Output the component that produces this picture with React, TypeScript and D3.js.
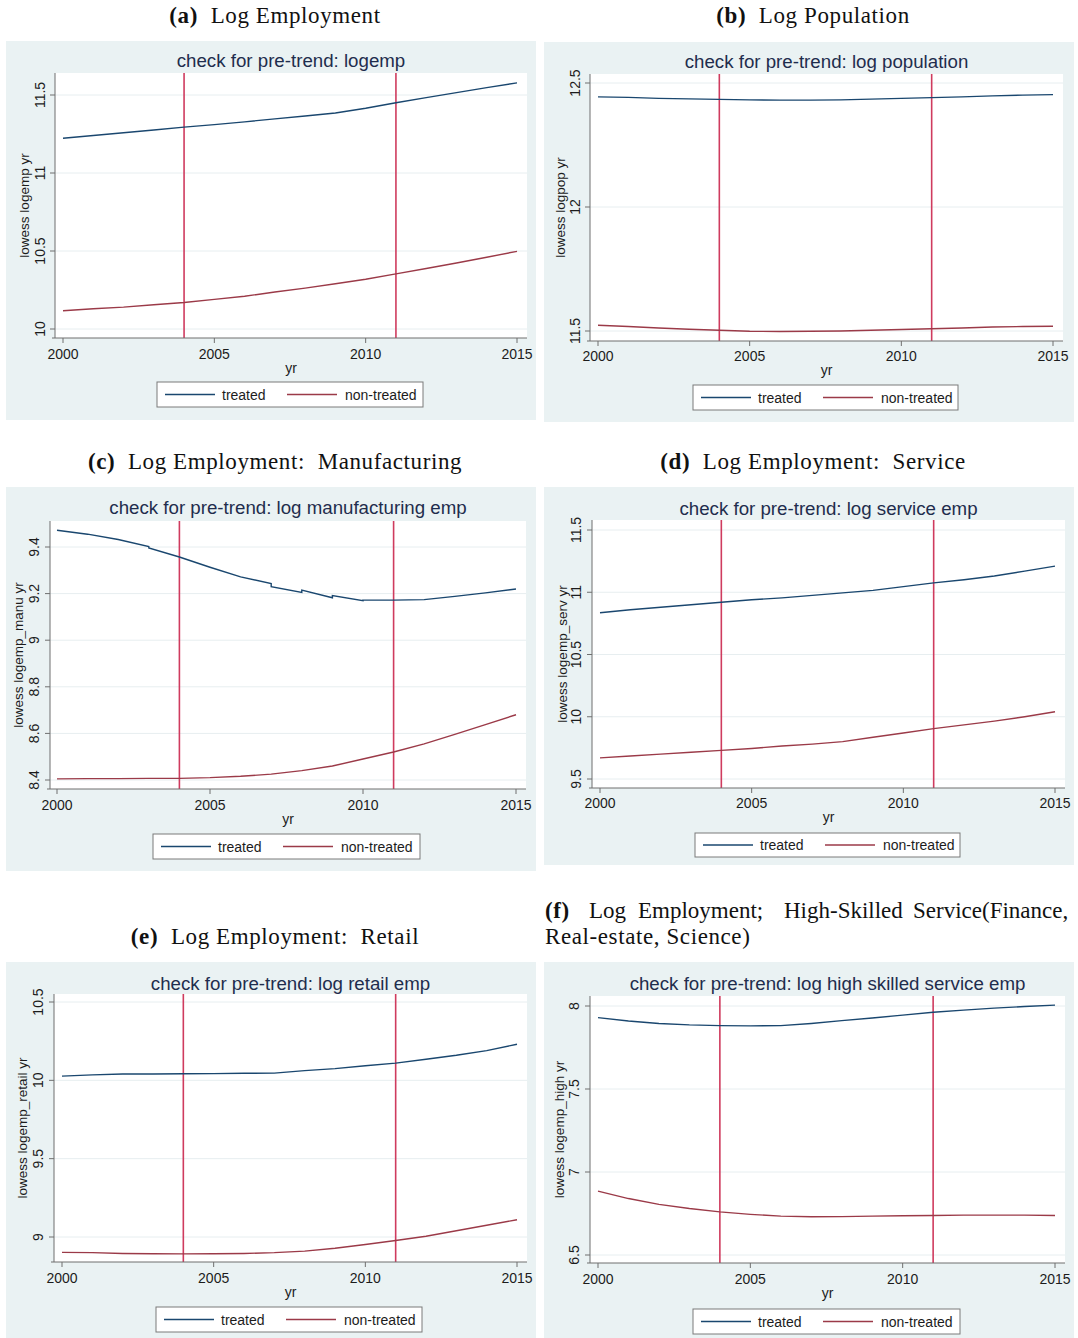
import React from "react";
import * as d3 from "d3";

// ---------- data ----------
const years = [2000, 2001, 2002, 2003, 2004, 2005, 2006, 2007, 2008, 2009, 2010, 2011, 2012, 2013, 2014, 2015];
const treatmentYears = [2004, 2011];
const xTicks = [2000, 2005, 2010, 2015];
const seriesNames = ["treated", "non-treated"];

// (a) log employment
const empTreated = [11.223, 11.24, 11.258, 11.276, 11.294, 11.31, 11.328, 11.347, 11.365, 11.385, 11.415, 11.45, 11.483, 11.515, 11.547, 11.578];
const empNonTreated = [10.117, 10.13, 10.14, 10.155, 10.17, 10.19, 10.21, 10.237, 10.262, 10.29, 10.319, 10.353, 10.388, 10.423, 10.46, 10.498];
const empTicks = [10, 10.5, 11, 11.5];

// (b) log population
const popTreated = [12.444, 12.442, 12.438, 12.436, 12.434, 12.432, 12.431, 12.431, 12.432, 12.435, 12.438, 12.441, 12.444, 12.448, 12.451, 12.453];
const popNonTreated = [11.523, 11.518, 11.512, 11.507, 11.503, 11.499, 11.498, 11.499, 11.5, 11.503, 11.506, 11.509, 11.512, 11.516, 11.518, 11.519];
const popTicks = [11.5, 12, 12.5];

// (c) manufacturing (treated line has small jumps at repeated years)
const manuYearsTreated = [2000, 2001, 2002, 2003, 2003, 2004, 2005, 2006, 2007, 2007, 2008, 2008, 2009, 2009, 2010, 2010, 2011, 2012, 2013, 2014, 2015];
const manuTreated = [9.472, 9.455, 9.432, 9.402, 9.396, 9.357, 9.313, 9.272, 9.243, 9.23, 9.205, 9.215, 9.182, 9.192, 9.17, 9.172, 9.172, 9.174, 9.188, 9.203, 9.22];
const manuNonTreated = [8.405, 8.406, 8.406, 8.407, 8.407, 8.41, 8.416, 8.425, 8.44, 8.46, 8.49, 8.52, 8.555, 8.596, 8.638, 8.68];
const manuTicks = [8.4, 8.6, 8.8, 9, 9.2, 9.4];

// (d) service
const servTreated = [10.835, 10.86, 10.88, 10.9, 10.92, 10.94, 10.955, 10.975, 10.995, 11.015, 11.045, 11.075, 11.1, 11.13, 11.17, 11.21];
const servNonTreated = [9.67, 9.685, 9.7, 9.715, 9.73, 9.745, 9.765, 9.78, 9.8, 9.835, 9.87, 9.905, 9.935, 9.965, 10.0, 10.04];
const servTicks = [9.5, 10, 10.5, 11, 11.5];

// (e) retail
const retailTreated = [10.027, 10.035, 10.04, 10.04, 10.042, 10.043, 10.045, 10.046, 10.062, 10.075, 10.093, 10.11, 10.135, 10.16, 10.19, 10.23];
const retailNonTreated = [8.902, 8.9, 8.895, 8.893, 8.892, 8.893, 8.895, 8.9, 8.91, 8.928, 8.952, 8.978, 9.005, 9.04, 9.075, 9.11];
const retailTicks = [9, 9.5, 10, 10.5];

// (f) high-skilled service
const highTreated = [7.93, 7.91, 7.895, 7.886, 7.882, 7.88, 7.882, 7.895, 7.912, 7.928, 7.945, 7.962, 7.975, 7.987, 7.997, 8.005];
const highNonTreated = [6.885, 6.84, 6.805, 6.78, 6.76, 6.745, 6.734, 6.73, 6.731, 6.734, 6.736, 6.738, 6.74, 6.74, 6.74, 6.738];
const highTicks = [6.5, 7, 7.5, 8];

// ---------- styles ----------
const BG = "#eaf2f3";
const NAVY = "#1a476f";
const MAROON = "#9b3a48";
const VLINE = "#cf3b5e";
const AXIS = "#6f6f6f";
const GRID = "#e7eef0";
const TEXT = "#1c1c1c";
const TITLE = "#1f2d4d";
const SANS = "'Liberation Sans', Arial, Helvetica, sans-serif";
const SERIF = "'Liberation Serif', 'Times New Roman', serif";
const CAP_SIZE = 23;
const CAP_SPACING = 0.6;

type Panel = {
  key: string;
  title: string;
  ytitle: string;
  box: [number, number, number, number];
  plot: { l: number; t: number; r: number; b: number };
  xPx: [number, number];
  yMap: [number, number, number, number];
  yTicks: number[];
  series: { xs: number[]; ys: number[]; color: string }[];
  legend: [number, number, number, number];
  titleY: number;
  xlabY: number;
  yrY: number;
  ytickX: number;
  ytitleX: number;
};

const panels: Panel[] = [
  {
    key: "a", title: "check for pre-trend: logemp", ytitle: "lowess logemp yr",
    box: [6, 41, 536, 420], plot: { l: 55, t: 73, r: 527, b: 338 },
    xPx: [63, 517], yMap: [10, 329, 11.5, 95], yTicks: empTicks,
    series: [{ xs: years, ys: empTreated, color: NAVY }, { xs: years, ys: empNonTreated, color: MAROON }],
    legend: [157, 382, 423, 407], titleY: 60, xlabY: 354, yrY: 368, ytickX: 40, ytitleX: 24,
  },
  {
    key: "b", title: "check for pre-trend: log population", ytitle: "lowess logpop yr",
    box: [544, 42, 1074, 422], plot: { l: 590, t: 74, r: 1063, b: 341 },
    xPx: [598, 1053], yMap: [11.5, 331, 12.5, 83], yTicks: popTicks,
    series: [{ xs: years, ys: popTreated, color: NAVY }, { xs: years, ys: popNonTreated, color: MAROON }],
    legend: [693, 385, 958, 410], titleY: 61, xlabY: 356, yrY: 370, ytickX: 575, ytitleX: 560,
  },
  {
    key: "c", title: "check for pre-trend: log manufacturing emp", ytitle: "lowess logemp_manu yr",
    box: [6, 487, 536, 871], plot: { l: 50, t: 521, r: 526, b: 789 },
    xPx: [57, 516], yMap: [8.4, 780, 9.4, 547], yTicks: manuTicks,
    series: [{ xs: manuYearsTreated, ys: manuTreated, color: NAVY }, { xs: years, ys: manuNonTreated, color: MAROON }],
    legend: [153, 834, 420, 859], titleY: 507, xlabY: 805, yrY: 819, ytickX: 34, ytitleX: 18,
  },
  {
    key: "d", title: "check for pre-trend: log service emp", ytitle: "lowess logemp_serv yr",
    box: [544, 487, 1074, 865], plot: { l: 592, t: 520, r: 1065, b: 788 },
    xPx: [600, 1055], yMap: [9.5, 779, 11.5, 530], yTicks: servTicks,
    series: [{ xs: years, ys: servTreated, color: NAVY }, { xs: years, ys: servNonTreated, color: MAROON }],
    legend: [695, 833, 960, 857], titleY: 508, xlabY: 803, yrY: 817, ytickX: 576, ytitleX: 562,
  },
  {
    key: "e", title: "check for pre-trend: log retail emp", ytitle: "lowess logemp_retail yr",
    box: [6, 962, 536, 1338], plot: { l: 54, t: 994, r: 527, b: 1262 },
    xPx: [62, 517], yMap: [9, 1237, 10.5, 1002], yTicks: retailTicks,
    series: [{ xs: years, ys: retailTreated, color: NAVY }, { xs: years, ys: retailNonTreated, color: MAROON }],
    legend: [156, 1307, 422, 1332], titleY: 983, xlabY: 1278, yrY: 1292, ytickX: 38, ytitleX: 22,
  },
  {
    key: "f", title: "check for pre-trend: log high skilled service emp", ytitle: "lowess logemp_high yr",
    box: [544, 962, 1074, 1338], plot: { l: 590, t: 996, r: 1065, b: 1263 },
    xPx: [598, 1055], yMap: [6.5, 1255, 8, 1006], yTicks: highTicks,
    series: [{ xs: years, ys: highTreated, color: NAVY }, { xs: years, ys: highNonTreated, color: MAROON }],
    legend: [693, 1309, 960, 1334], titleY: 983, xlabY: 1279, yrY: 1293, ytickX: 574, ytitleX: 559,
  },
];

const fmt = (v: number) => String(v);

function PanelView({ p }: { p: Panel }) {
  const x = d3.scaleLinear().domain([2000, 2015]).range(p.xPx);
  const y = d3.scaleLinear().domain([p.yMap[0], p.yMap[2]]).range([p.yMap[1], p.yMap[3]]);
  const { l, t, r, b } = p.plot;
  const cx = (l + r) / 2;
  const cy = (t + b) / 2;
  const [lx0, ly0, lx1, ly1] = p.legend;
  const lmid = (ly0 + ly1) / 2;
  return (
    <g>
      <rect x={p.box[0]} y={p.box[1]} width={p.box[2] - p.box[0]} height={p.box[3] - p.box[1]} fill={BG} />
      <rect x={l} y={t} width={r - l} height={b - t} fill="#ffffff" />
      {p.yTicks.map((v) => (
        <line key={"g" + v} x1={l} x2={r} y1={y(v)} y2={y(v)} stroke={GRID} strokeWidth={1} />
      ))}
      {treatmentYears.map((yr) => (
        <line key={"v" + yr} x1={x(yr)} x2={x(yr)} y1={t} y2={b} stroke={VLINE} strokeWidth={1.6} />
      ))}
      {p.series.map((s, i) => {
        const pts = s.xs.map((xv, j) => [xv, s.ys[j]] as [number, number]);
        const path = d3.line<[number, number]>().x((d) => x(d[0])).y((d) => y(d[1]))(pts) || "";
        return <path key={"s" + i} d={path} fill="none" stroke={s.color} strokeWidth={1.4} />;
      })}
      {/* axes */}
      <line x1={l} x2={l} y1={t} y2={b} stroke={AXIS} strokeWidth={1} />
      <line x1={l - 3} x2={r} y1={b} y2={b} stroke={AXIS} strokeWidth={1} />
      {p.yTicks.map((v) => (
        <g key={"yt" + v}>
          <line x1={l - 5} x2={l} y1={y(v)} y2={y(v)} stroke={AXIS} strokeWidth={1} />
          <text
            transform={`translate(${p.ytickX},${y(v)}) rotate(-90)`}
            textAnchor="middle" dominantBaseline="central"
            fontFamily={SANS} fontSize={14} fill={TEXT}
          >{fmt(v)}</text>
        </g>
      ))}
      {xTicks.map((v) => (
        <g key={"xt" + v}>
          <line x1={x(v)} x2={x(v)} y1={b} y2={b + 5} stroke={AXIS} strokeWidth={1} />
          <text x={x(v)} y={p.xlabY} textAnchor="middle" dominantBaseline="central" fontFamily={SANS} fontSize={14} fill={TEXT}>{v}</text>
        </g>
      ))}
      <text x={cx} y={p.yrY} textAnchor="middle" dominantBaseline="central" fontFamily={SANS} fontSize={14} fill={TEXT}>yr</text>
      <text
        transform={`translate(${p.ytitleX},${cy}) rotate(-90)`}
        textAnchor="middle" dominantBaseline="central" fontFamily={SANS} fontSize={13.5} fill={TEXT}
      >{p.ytitle}</text>
      <text x={cx} y={p.titleY} textAnchor="middle" dominantBaseline="central" fontFamily={SANS} fontSize={18.7} fill={TITLE}>{p.title}</text>
      {/* legend */}
      <rect x={lx0} y={ly0} width={lx1 - lx0} height={ly1 - ly0} fill="#ffffff" stroke="#7a7a7a" strokeWidth={1} />
      <line x1={lx0 + 8} x2={lx0 + 58} y1={lmid} y2={lmid} stroke={NAVY} strokeWidth={1.4} />
      <text x={lx0 + 65} y={lmid} dominantBaseline="central" fontFamily={SANS} fontSize={14} fill={TEXT}>{seriesNames[0]}</text>
      <line x1={lx0 + 130} x2={lx0 + 180} y1={lmid} y2={lmid} stroke={MAROON} strokeWidth={1.4} />
      <text x={lx0 + 188} y={lmid} dominantBaseline="central" fontFamily={SANS} fontSize={14} fill={TEXT}>{seriesNames[1]}</text>
    </g>
  );
}

function Caption({ label, text, x, y }: { label: string; text: string; x: number; y: number }) {
  return (
    <text x={x} y={y} textAnchor="middle" fontFamily={SERIF} fontSize={CAP_SIZE} letterSpacing={CAP_SPACING} fill="#111" style={{ whiteSpace: "pre" }}>
      <tspan fontWeight="bold">{label}</tspan>
      <tspan>{"  " + text}</tspan>
    </text>
  );
}

export default function App() {
  const fWords: [string, number][] = [
    ["Log", 589], ["Employment;", 638], ["High-Skilled", 784], ["Service(Finance,", 913],
  ];
  return (
    <svg
      width={1078}
      height={1338}
      style={{ position: "absolute", left: 0, top: 0, background: "#ffffff" }}
    >
      <rect x={0} y={0} width={1078} height={1338} fill="#ffffff" />
      <Caption label="(a)" text="Log Employment" x={275} y={23} />
      <Caption label="(b)" text="Log Population" x={813} y={23} />
      <Caption label="(c)" text={"Log Employment:  Manufacturing"} x={275} y={469} />
      <Caption label="(d)" text={"Log Employment:  Service"} x={813} y={469} />
      <Caption label="(e)" text={"Log Employment:  Retail"} x={275} y={944} />
      <text x={545} y={918} fontFamily={SERIF} fontSize={CAP_SIZE} letterSpacing={CAP_SPACING} fill="#111" fontWeight="bold">(f)</text>
      {fWords.map(([w, wx]) => (
        <text key={w} x={wx} y={918} fontFamily={SERIF} fontSize={CAP_SIZE} letterSpacing={0} fill="#111">{w}</text>
      ))}
      <text x={545} y={944} fontFamily={SERIF} fontSize={CAP_SIZE} letterSpacing={CAP_SPACING} fill="#111">Real-estate, Science)</text>
      {panels.map((p) => (
        <PanelView key={p.key} p={p} />
      ))}
    </svg>
  );
}
